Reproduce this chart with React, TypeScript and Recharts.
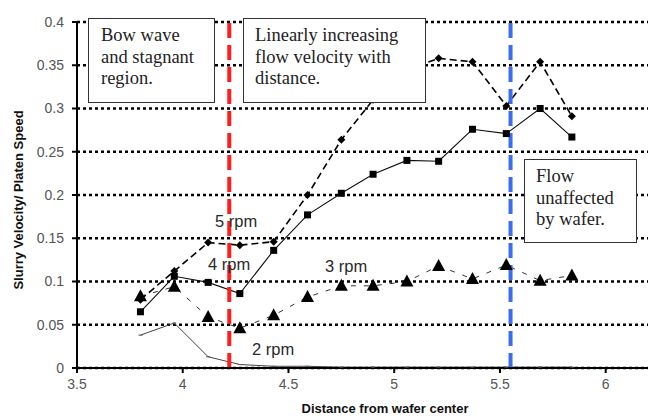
import React from 'react';
import { LineChart, Line, XAxis, YAxis, CartesianGrid, ReferenceLine } from 'recharts';

const distances = [3.8, 3.96, 4.12, 4.27, 4.43, 4.59, 4.75, 4.9, 5.06, 5.21, 5.37, 5.53, 5.69, 5.84];
const rpm5 = [0.079, 0.112, 0.145, 0.142, 0.146, 0.2, 0.264, 0.31, 0.345, 0.358, 0.354, 0.303, 0.354, 0.291];
const rpm4 = [0.065, 0.106, 0.099, 0.086, 0.136, 0.177, 0.202, 0.224, 0.24, 0.239, 0.276, 0.271, 0.3, 0.267];
const rpm3 = [0.083, 0.094, 0.059, 0.046, 0.061, 0.082, 0.095, 0.095, 0.1, 0.118, 0.103, 0.119, 0.101, 0.107];
const rpm2 = [0.038, 0.052, 0.013, 0.004, 0.002, 0.002, 0.001, 0.001, 0.001, 0.001, 0.001, 0.001, 0.001, 0.001];

const xTicks = [3.5, 4, 4.5, 5, 5.5, 6];
const yTicks = [0, 0.05, 0.1, 0.15, 0.2, 0.25, 0.3, 0.35, 0.4];
const boundaryLeft = 4.22;
const boundaryRight = 5.55;

const data = distances.map((x, i) => ({ x, r5: rpm5[i], r4: rpm4[i], r3: rpm3[i], r2: rpm2[i] }));

const SquareDot = (p: any) => {
  const { cx, cy, index } = p;
  if (cx == null || cy == null) return <g key={`s${index}`} />;
  return <rect key={`s${index}`} x={cx - 3.5} y={cy - 3.5} width={7} height={7} fill="#000" />;
};
const DiamondDot = (p: any) => {
  const { cx, cy, index } = p;
  if (cx == null || cy == null) return <g key={`d${index}`} />;
  return <polygon key={`d${index}`} points={`${cx},${cy - 4} ${cx + 4},${cy} ${cx},${cy + 4} ${cx - 4},${cy}`} fill="#000" />;
};
const TriDot = (p: any) => {
  const { cx, cy, index } = p;
  if (cx == null || cy == null) return <g key={`t${index}`} />;
  return <polygon key={`t${index}`} points={`${cx},${cy - 7} ${cx + 6.5},${cy + 5} ${cx - 6.5},${cy + 5}`} fill="#000" />;
};
const TinyDot = (p: any) => {
  const { cx, cy, index } = p;
  if (cx == null || cy == null) return <g key={`m${index}`} />;
  return <line key={`m${index}`} x1={cx - 2} y1={cy} x2={cx + 2} y2={cy} stroke="#555" strokeWidth={1} />;
};

const boxStyle: React.CSSProperties = {
  position: 'absolute',
  background: '#fff',
  border: '1.5px solid #333',
  boxSizing: 'border-box',
  fontFamily: '"Liberation Serif", "Times New Roman", serif',
  fontSize: 18.5,
  lineHeight: '21.7px',
  color: '#222',
  whiteSpace: 'nowrap',
};
const rpmStyle: React.CSSProperties = {
  position: 'absolute',
  fontFamily: '"Liberation Sans", Arial, sans-serif',
  fontSize: 16.5,
  color: '#2a2a2a',
  lineHeight: '18px',
  whiteSpace: 'nowrap',
};

export default function App() {
  return (
    <div style={{ position: 'absolute', left: 0, top: 0, width: 650, height: 416, background: '#fff' }}>
      <LineChart width={650} height={416} data={data} margin={{ top: 22, right: 2, bottom: 0, left: 0 }}>
        <CartesianGrid vertical={false} stroke="#000" strokeWidth={2.5} strokeDasharray="3 3" />
        <XAxis
          dataKey="x"
          type="number"
          domain={[3.5, 6.2]}
          ticks={xTicks}
          allowDataOverflow
          height={48}
          axisLine={{ stroke: '#000', strokeWidth: 2 }}
          tickLine={{ stroke: '#000', strokeWidth: 2 }}
          tickSize={5}
          tickMargin={6}
          tick={{ fill: '#555', fontSize: 14, fontFamily: '"Liberation Sans", Arial, sans-serif' }}
          label={{
            content: () => (
              <text x={385} y={413} textAnchor="middle" fontFamily='"Liberation Sans", Arial, sans-serif' fontWeight="bold" fontSize={13} fill="#111">
                Distance from wafer center
              </text>
            ),
          }}
        />
        <YAxis
          type="number"
          domain={[0, 0.4]}
          ticks={yTicks}
          width={77}
          axisLine={{ stroke: '#000', strokeWidth: 2 }}
          tickLine={{ stroke: '#000', strokeWidth: 2 }}
          tickSize={5}
          tickMargin={8}
          tick={{ fill: '#555', fontSize: 14, fontFamily: '"Liberation Sans", Arial, sans-serif' }}
          label={{
            content: () => (
              <text x={23} y={200} textAnchor="middle" transform="rotate(-90 23 200)" fontFamily='"Liberation Sans", Arial, sans-serif' fontWeight="bold" fontSize={13} fill="#111">
                Slurry Velocity/ Platen Speed
              </text>
            ),
          }}
        />
        <Line dataKey="r2" stroke="#444" strokeWidth={1} dot={TinyDot} isAnimationActive={false} />
        <Line dataKey="r3" stroke="#333" strokeWidth={1} strokeDasharray="5 8" dot={TriDot} isAnimationActive={false} />
        <Line dataKey="r4" stroke="#111" strokeWidth={1.1} dot={SquareDot} isAnimationActive={false} />
        <Line dataKey="r5" stroke="#000" strokeWidth={1.6} strokeDasharray="7 4" dot={DiamondDot} isAnimationActive={false} />
        <ReferenceLine x={boundaryLeft} stroke="#ff1e1e" strokeWidth={4} strokeDasharray="15 7" />
        <ReferenceLine x={boundaryRight} stroke="#3a6cf4" strokeWidth={4} strokeDasharray="15 7" />
      </LineChart>
      <div style={{ ...boxStyle, left: 88, top: 18, width: 127, height: 85, padding: '6px 0 0 12px' }}>
        Bow wave<br />and stagnant<br />region.
      </div>
      <div style={{ ...boxStyle, left: 243, top: 18, width: 183, height: 85, padding: '6px 0 0 11px' }}>
        Linearly increasing<br />flow velocity with<br />distance.
      </div>
      <div style={{ ...boxStyle, left: 524, top: 159, width: 113, height: 84, padding: '6px 0 0 11px' }}>
        Flow<br />unaffected<br />by wafer.
      </div>
      <div style={{ ...rpmStyle, left: 215, top: 212 }}>5 rpm</div>
      <div style={{ ...rpmStyle, left: 208, top: 255 }}>4 rpm</div>
      <div style={{ ...rpmStyle, left: 325, top: 257 }}>3 rpm</div>
      <div style={{ ...rpmStyle, left: 252, top: 340 }}>2 rpm</div>
    </div>
  );
}
